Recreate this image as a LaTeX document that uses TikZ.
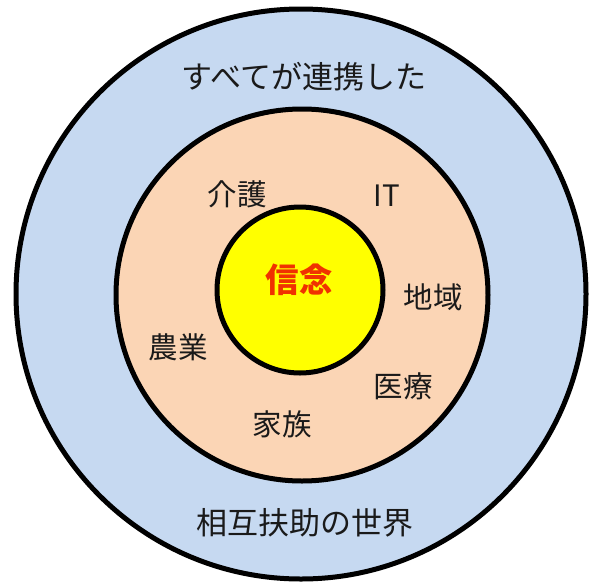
\documentclass[tikz,border=0pt]{standalone}
\usepackage{fontspec}
\newfontfamily\jp{Noto Sans CJK JP}
\definecolor{outerblue}{HTML}{C6D9F1}
\definecolor{midpeach}{HTML}{FBD5B5}
\definecolor{coreyellow}{HTML}{FFFF00}
\definecolor{corered}{RGB}{240,50,0}
\definecolor{txt}{HTML}{1A1A1A}
\begin{document}
\begin{tikzpicture}[x=1pt,y=-1pt,
  ring/.style={draw=black,line width=5pt},
  lbl/.style={font=\jp\fontsize{29.5}{29.5}\selectfont,text=txt,inner sep=0pt},
  biglbl/.style={font=\jp\fontsize{31}{31}\selectfont,text=txt,inner sep=0pt}]
\useasboundingbox (0,0) rectangle (597,584);
\fill[white] (0,0) rectangle (597,584);
\path[ring,fill=outerblue] (301,294) circle[radius=285pt];
\path[ring,fill=midpeach] (302,295) circle[radius=186pt];
\path[ring,fill=coreyellow] (300,290) circle[radius=83pt];
\node[biglbl] (top) at (304,77) {すべてが連携した};
\node[biglbl] (bottom) at (305,523) {相互扶助の世界};
\node[inner sep=0pt,font=\jp\bfseries\fontsize{33.5}{33.5}\selectfont,text=corered] (core) at (299,280) {信念};
\node[lbl] (kaigo) at (237,194) {介護};
\node[lbl] (it) at (387,196) {IT};
\node[lbl] (chiiki) at (433,297) {地域};
\node[lbl] (nogyo) at (178,347) {農業};
\node[lbl] (iryo) at (403,386) {医療};
\node[lbl] (kazoku) at (282,424) {家族};
\end{tikzpicture}
\end{document}
